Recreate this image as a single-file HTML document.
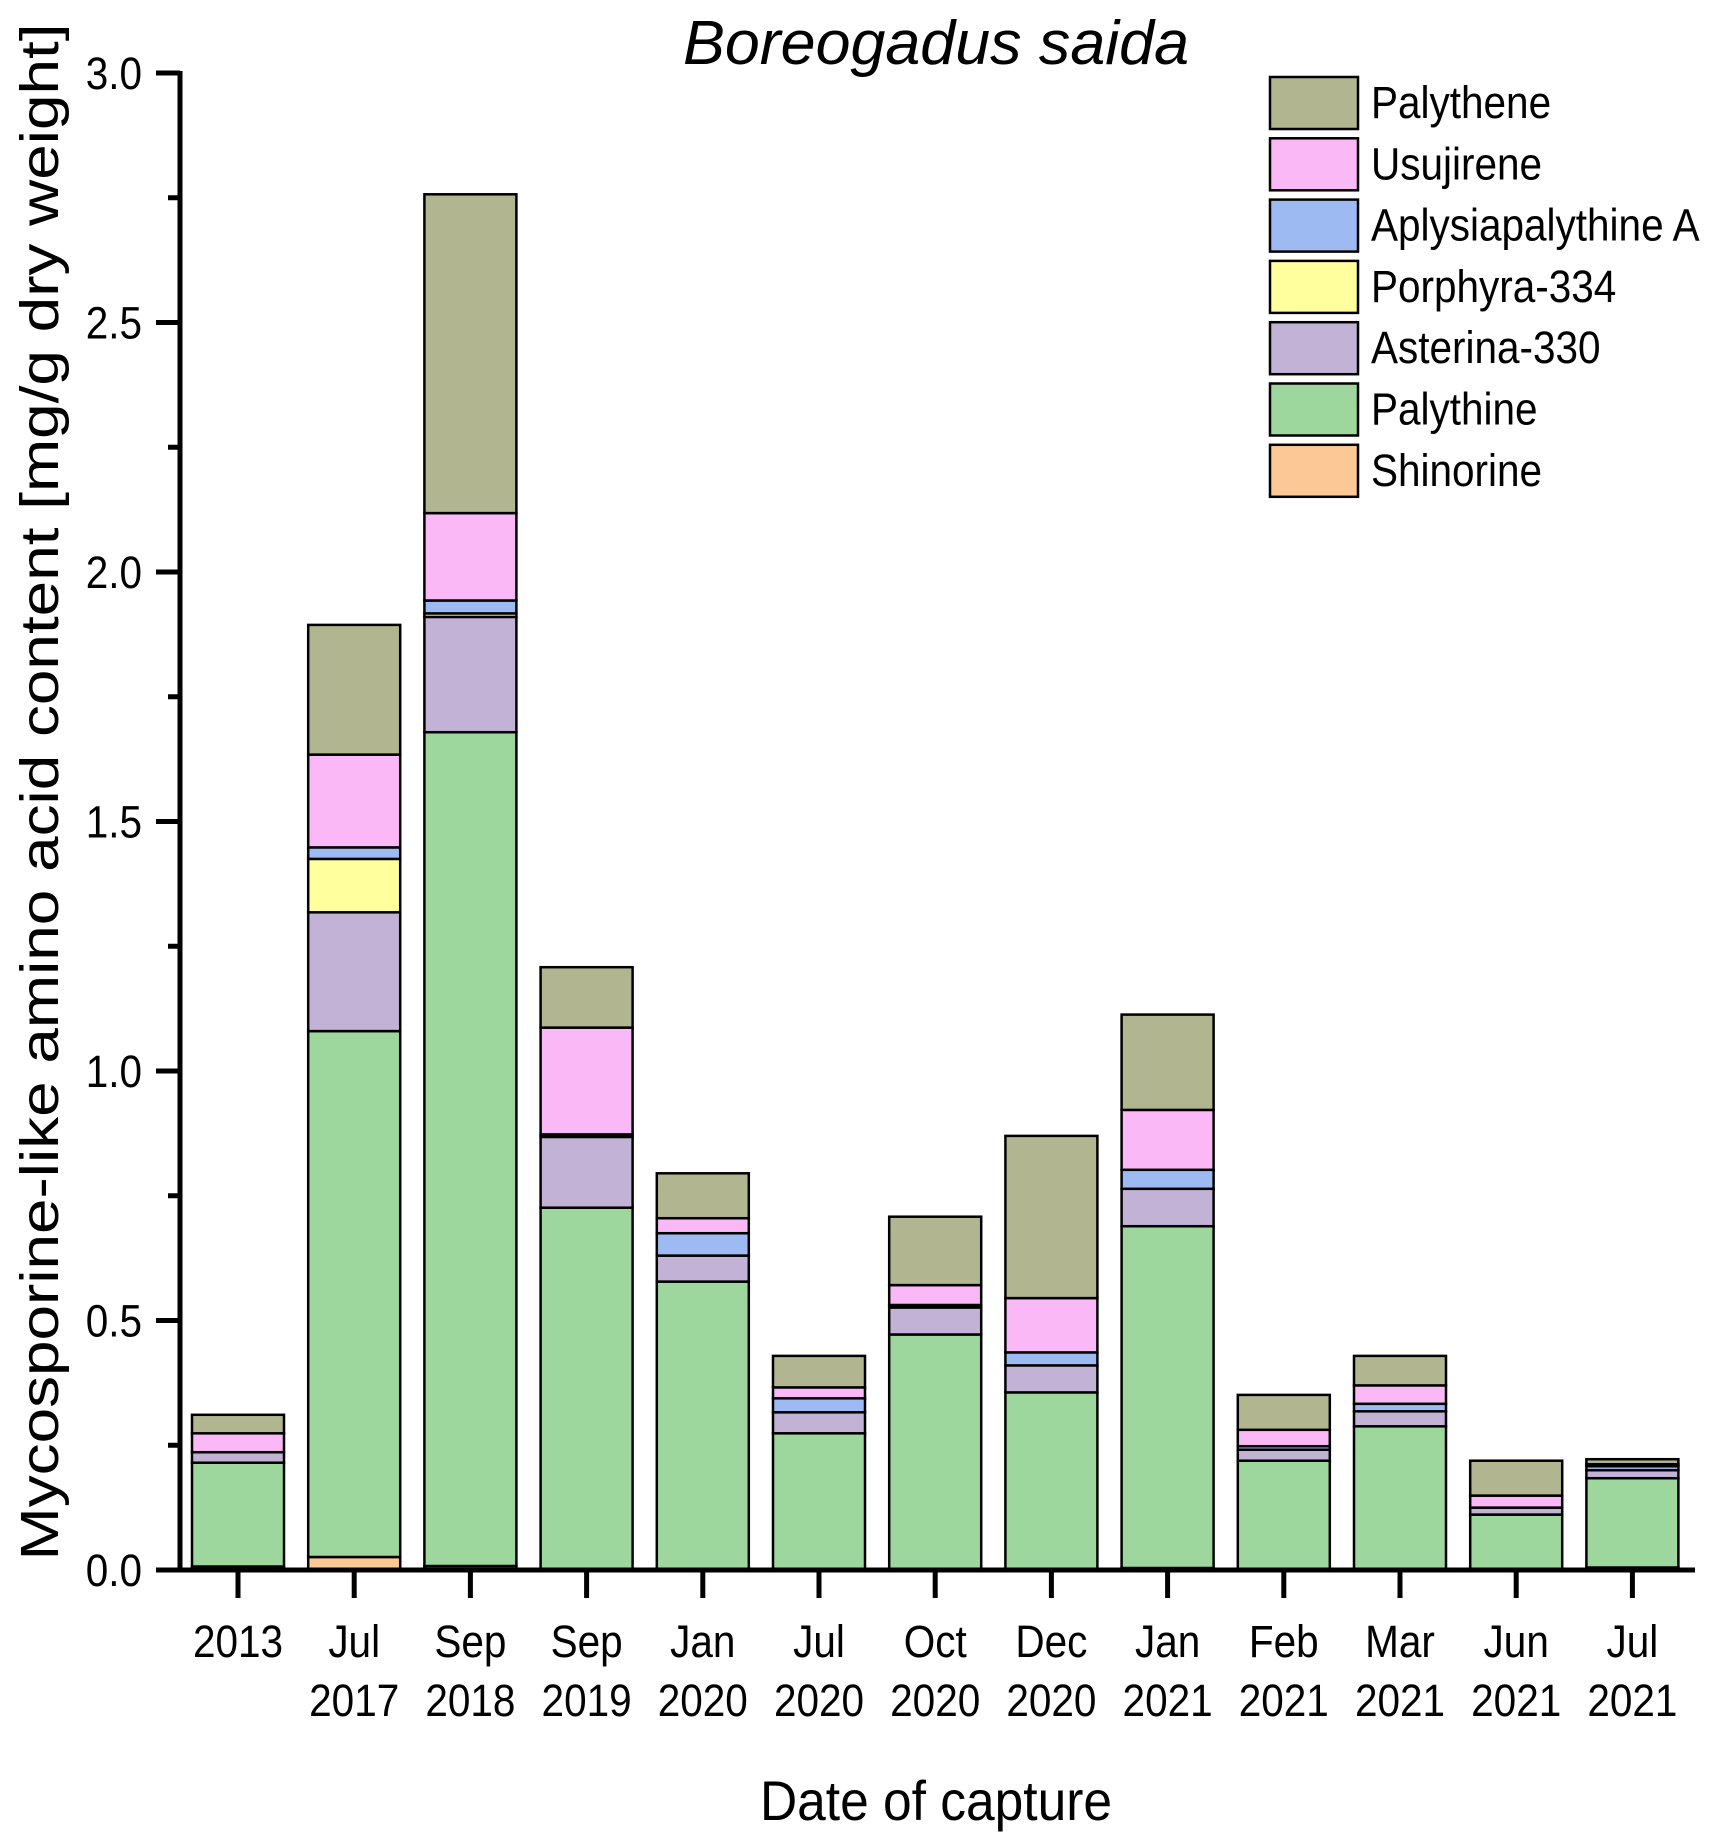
<!DOCTYPE html>
<html><head><meta charset="utf-8"><style>html,body{margin:0;padding:0;background:#fff}svg{display:block}</style></head>
<body>
<svg width="1709" height="1844" viewBox="0 0 1709 1844" xmlns="http://www.w3.org/2000/svg" font-family="Liberation Sans, Arial, sans-serif">
<g stroke="#000" stroke-width="2.5">
<g transform="translate(192,0)">
<rect y="1566.5" width="92" height="3.5" fill="#fbc896"/>
<rect y="1462.7" width="92" height="103.8" fill="#9dd79d"/>
<rect y="1452.2" width="92" height="10.5" fill="#c2b3d6"/>
<rect y="1433.3" width="92" height="18.9" fill="#fbb8f7"/>
<rect y="1414.8" width="92" height="18.5" fill="#b2b690"/>
</g>
<g transform="translate(308.2,0)">
<rect y="1557" width="92" height="13" fill="#fbc896"/>
<rect y="1031.1" width="92" height="525.9" fill="#9dd79d"/>
<rect y="912.3" width="92" height="118.8" fill="#c2b3d6"/>
<rect y="858.9" width="92" height="53.4" fill="#ffff9e"/>
<rect y="847.4" width="92" height="11.5" fill="#9dbbf2"/>
<rect y="754.6" width="92" height="92.8" fill="#fbb8f7"/>
<rect y="624.9" width="92" height="129.7" fill="#b2b690"/>
</g>
<g transform="translate(424.4,0)">
<rect y="1566" width="92" height="4" fill="#fbc896"/>
<rect y="732.2" width="92" height="833.8" fill="#9dd79d"/>
<rect y="616.9" width="92" height="115.3" fill="#c2b3d6"/>
<rect y="613.4" width="92" height="3.5" fill="#ffff9e"/>
<rect y="600.5" width="92" height="12.9" fill="#9dbbf2"/>
<rect y="513.1" width="92" height="87.4" fill="#fbb8f7"/>
<rect y="194.3" width="92" height="318.8" fill="#b2b690"/>
</g>
<g transform="translate(540.6,0)">
<rect y="1207.7" width="92" height="362.3" fill="#9dd79d"/>
<rect y="1136.9" width="92" height="70.8" fill="#c2b3d6"/>
<rect y="1134.4" width="92" height="2.5" fill="#9dbbf2"/>
<rect y="1027.6" width="92" height="106.8" fill="#fbb8f7"/>
<rect y="967.2" width="92" height="60.4" fill="#b2b690"/>
</g>
<g transform="translate(656.8,0)">
<rect y="1281.6" width="92" height="288.4" fill="#9dd79d"/>
<rect y="1255.6" width="92" height="26" fill="#c2b3d6"/>
<rect y="1233.2" width="92" height="22.4" fill="#9dbbf2"/>
<rect y="1218.2" width="92" height="15" fill="#fbb8f7"/>
<rect y="1173.3" width="92" height="44.9" fill="#b2b690"/>
</g>
<g transform="translate(773,0)">
<rect y="1433.3" width="92" height="136.7" fill="#9dd79d"/>
<rect y="1412.3" width="92" height="21" fill="#c2b3d6"/>
<rect y="1398.3" width="92" height="14" fill="#9dbbf2"/>
<rect y="1387.4" width="92" height="10.9" fill="#fbb8f7"/>
<rect y="1355.9" width="92" height="31.5" fill="#b2b690"/>
</g>
<g transform="translate(889.2,0)">
<rect y="1334.5" width="92" height="235.5" fill="#9dd79d"/>
<rect y="1307.5" width="92" height="27" fill="#c2b3d6"/>
<rect y="1305" width="92" height="2.5" fill="#9dbbf2"/>
<rect y="1285.1" width="92" height="19.9" fill="#fbb8f7"/>
<rect y="1216.7" width="92" height="68.4" fill="#b2b690"/>
</g>
<g transform="translate(1005.4,0)">
<rect y="1392.4" width="92" height="177.6" fill="#9dd79d"/>
<rect y="1365.4" width="92" height="27" fill="#c2b3d6"/>
<rect y="1352.4" width="92" height="13" fill="#9dbbf2"/>
<rect y="1298.1" width="92" height="54.3" fill="#fbb8f7"/>
<rect y="1135.9" width="92" height="162.2" fill="#b2b690"/>
</g>
<g transform="translate(1121.6,0)">
<rect y="1568" width="92" height="2" fill="#fbc896"/>
<rect y="1226.2" width="92" height="341.8" fill="#9dd79d"/>
<rect y="1188.8" width="92" height="37.4" fill="#c2b3d6"/>
<rect y="1169.8" width="92" height="19" fill="#9dbbf2"/>
<rect y="1109.9" width="92" height="59.9" fill="#fbb8f7"/>
<rect y="1014.6" width="92" height="95.3" fill="#b2b690"/>
</g>
<g transform="translate(1237.8,0)">
<rect y="1460.7" width="92" height="109.3" fill="#9dd79d"/>
<rect y="1449.7" width="92" height="11" fill="#c2b3d6"/>
<rect y="1446.2" width="92" height="3.5" fill="#9dbbf2"/>
<rect y="1429.8" width="92" height="16.4" fill="#fbb8f7"/>
<rect y="1394.9" width="92" height="34.9" fill="#b2b690"/>
</g>
<g transform="translate(1354,0)">
<rect y="1426.3" width="92" height="143.7" fill="#9dd79d"/>
<rect y="1411.3" width="92" height="15" fill="#c2b3d6"/>
<rect y="1403.8" width="92" height="7.5" fill="#9dbbf2"/>
<rect y="1385.4" width="92" height="18.4" fill="#fbb8f7"/>
<rect y="1355.9" width="92" height="29.5" fill="#b2b690"/>
</g>
<g transform="translate(1470.2,0)">
<rect y="1514.6" width="92" height="55.4" fill="#9dd79d"/>
<rect y="1507.6" width="92" height="7" fill="#c2b3d6"/>
<rect y="1495.6" width="92" height="12" fill="#fbb8f7"/>
<rect y="1460.7" width="92" height="34.9" fill="#b2b690"/>
</g>
<g transform="translate(1586.4,0)">
<rect y="1567.5" width="92" height="2.5" fill="#fbc896"/>
<rect y="1478.2" width="92" height="89.3" fill="#9dd79d"/>
<rect y="1470.2" width="92" height="8" fill="#c2b3d6"/>
<rect y="1466.2" width="92" height="4" fill="#9dbbf2"/>
<rect y="1464.2" width="92" height="2" fill="#fbb8f7"/>
<rect y="1459.2" width="92" height="5" fill="#b2b690"/>
</g>
</g>

<g stroke="#000" stroke-width="5" fill="none">
<line x1="180" y1="71" x2="180" y2="1572.5"/>
<line x1="156" y1="1570" x2="1695" y2="1570"/>
<path d="M156 73H180M156 322.5H180M156 572H180M156 821.5H180M156 1071H180M156 1320.5H180"/>
<path d="M168 197.75H180M168 447.25H180M168 696.75H180M168 946.25H180M168 1195.75H180M168 1445.25H180"/>
<path d="M238 1570V1598M354.2 1570V1598M470.4 1570V1598M586.6 1570V1598M702.8 1570V1598M819 1570V1598M935.2 1570V1598M1051.4 1570V1598M1167.6 1570V1598M1283.8 1570V1598M1400 1570V1598M1516.2 1570V1598M1632.4 1570V1598"/>
</g>

<g font-size="45" text-anchor="end" fill="#000">
<text transform="translate(142,89) scale(0.9,1)">3.0</text>
<text transform="translate(142,338.5) scale(0.9,1)">2.5</text>
<text transform="translate(142,588) scale(0.9,1)">2.0</text>
<text transform="translate(142,837.5) scale(0.9,1)">1.5</text>
<text transform="translate(142,1087) scale(0.9,1)">1.0</text>
<text transform="translate(142,1336.5) scale(0.9,1)">0.5</text>
<text transform="translate(142,1586) scale(0.9,1)">0.0</text>
</g>

<g font-size="45" text-anchor="middle" fill="#000">
<text transform="translate(238,1657) scale(0.9,1)">2013</text>
<text transform="translate(354.2,1657) scale(0.9,1)">Jul</text>
<text transform="translate(354.2,1716) scale(0.9,1)">2017</text>
<text transform="translate(470.4,1657) scale(0.9,1)">Sep</text>
<text transform="translate(470.4,1716) scale(0.9,1)">2018</text>
<text transform="translate(586.6,1657) scale(0.9,1)">Sep</text>
<text transform="translate(586.6,1716) scale(0.9,1)">2019</text>
<text transform="translate(702.8,1657) scale(0.9,1)">Jan</text>
<text transform="translate(702.8,1716) scale(0.9,1)">2020</text>
<text transform="translate(819,1657) scale(0.9,1)">Jul</text>
<text transform="translate(819,1716) scale(0.9,1)">2020</text>
<text transform="translate(935.2,1657) scale(0.9,1)">Oct</text>
<text transform="translate(935.2,1716) scale(0.9,1)">2020</text>
<text transform="translate(1051.4,1657) scale(0.9,1)">Dec</text>
<text transform="translate(1051.4,1716) scale(0.9,1)">2020</text>
<text transform="translate(1167.6,1657) scale(0.9,1)">Jan</text>
<text transform="translate(1167.6,1716) scale(0.9,1)">2021</text>
<text transform="translate(1283.8,1657) scale(0.9,1)">Feb</text>
<text transform="translate(1283.8,1716) scale(0.9,1)">2021</text>
<text transform="translate(1400,1657) scale(0.9,1)">Mar</text>
<text transform="translate(1400,1716) scale(0.9,1)">2021</text>
<text transform="translate(1516.2,1657) scale(0.9,1)">Jun</text>
<text transform="translate(1516.2,1716) scale(0.9,1)">2021</text>
<text transform="translate(1632.4,1657) scale(0.9,1)">Jul</text>
<text transform="translate(1632.4,1716) scale(0.9,1)">2021</text>
</g>

<text x="936" y="64" font-size="62" font-style="italic" text-anchor="middle" textLength="506" lengthAdjust="spacingAndGlyphs">Boreogadus saida</text>
<text x="936" y="1820" font-size="56" text-anchor="middle" textLength="352" lengthAdjust="spacingAndGlyphs">Date of capture</text>
<text transform="translate(58,792) rotate(-90)" font-size="54" text-anchor="middle" textLength="1537" lengthAdjust="spacingAndGlyphs">Mycosporine-like amino acid content [mg/g dry weight]</text>

<g stroke="#000" stroke-width="2.5">
<rect x="1270" y="77" width="88" height="52" fill="#b2b690"/>
<rect x="1270" y="138.3" width="88" height="52" fill="#fbb8f7"/>
<rect x="1270" y="199.6" width="88" height="52" fill="#9dbbf2"/>
<rect x="1270" y="260.9" width="88" height="52" fill="#ffff9e"/>
<rect x="1270" y="322.2" width="88" height="52" fill="#c2b3d6"/>
<rect x="1270" y="383.5" width="88" height="52" fill="#9dd79d"/>
<rect x="1270" y="444.8" width="88" height="52" fill="#fbc896"/>
</g>
<g font-size="45" fill="#000">
<text transform="translate(1371,118) scale(0.9,1)">Palythene</text>
<text transform="translate(1371,179.3) scale(0.9,1)">Usujirene</text>
<text transform="translate(1371,240.6) scale(0.9,1)">Aplysiapalythine A</text>
<text transform="translate(1371,301.9) scale(0.9,1)">Porphyra-334</text>
<text transform="translate(1371,363.2) scale(0.9,1)">Asterina-330</text>
<text transform="translate(1371,424.5) scale(0.9,1)">Palythine</text>
<text transform="translate(1371,485.8) scale(0.9,1)">Shinorine</text>
</g>
</svg>
</body></html>
